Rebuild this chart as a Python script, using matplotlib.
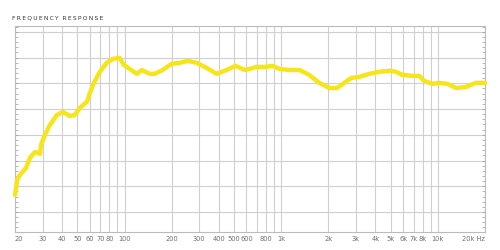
import matplotlib
matplotlib.use("Agg")
import matplotlib.pyplot as plt
from matplotlib.ticker import FixedLocator, NullFormatter, MultipleLocator

# frequency response (Hz, relative level)
freqs = [20, 20.3, 20.6, 21.5, 23.5, 24.9, 26.8, 28.9, 29.3, 31, 33.4, 37, 40.4,
         44.8, 48.2, 51.9, 57.5, 62.8, 69.6, 77, 84, 93, 99, 108, 120, 129, 145,
         156, 175, 200, 225, 253, 289, 334, 387, 448, 512, 584, 628, 695, 794,
         880, 975, 1130, 1310, 1510, 1750, 2030, 2280, 2530, 2800, 3150, 3650,
         4230, 4900, 5420, 5920, 6850, 7600, 8170, 9190, 10200, 11500, 13100,
         15100, 17500, 20000]
level = [6.6, 9.0, 12.4, 14.4, 17.1, 21.0, 23.3, 22.6, 26.1, 29.9, 33.8, 37.7,
         38.9, 37.3, 37.7, 40.5, 42.8, 49.4, 54.5, 58.0, 59.5, 59.9, 57.2, 55.6,
         53.7, 55.2, 53.7, 53.7, 55.2, 57.6, 58.0, 58.7, 58.0, 56.0, 53.7, 55.2,
         56.8, 55.2, 55.6, 56.4, 56.4, 56.8, 55.6, 55.2, 55.2, 53.3, 50.2, 48.2,
         48.2, 50.2, 52.1, 52.5, 53.7, 54.5, 54.9, 54.5, 53.3, 52.9, 52.9, 51.0,
         49.8, 50.2, 49.8, 48.2, 48.6, 50.2, 50.2]

grid_freqs = [20, 30, 40, 50, 60, 70, 80, 90, 100, 200, 300, 400, 500, 600, 700,
              800, 900, 1000, 2000, 3000, 4000, 5000, 6000, 7000, 8000, 9000,
              10000, 20000]
label_freqs = [20, 30, 40, 50, 60, 70, 80, 100, 200, 300, 400, 500, 600, 800,
               1000, 2000, 3000, 4000, 5000, 6000, 7000, 8000, 10000, 20000]
label_text = ["20", "30", "40", "50", "60", "70", "80", "100", "200", "300",
              "400", "500", "600", "800", "1k", "2k", "3k", "4k", "5k", "6k",
              "7k", "8k", "10k", "20k Hz"]

fig = plt.figure(figsize=(5, 2.5), dpi=100)
ax = fig.add_axes([0.03, 0.072, 0.94, 0.824])

ax.set_xscale("log")
ax.set_xlim(20, 20000)
ax.set_ylim(-7.8, 72.3)

ax.xaxis.set_major_locator(FixedLocator(grid_freqs))
ax.xaxis.set_minor_locator(FixedLocator([]))
ax.xaxis.set_major_formatter(NullFormatter())
ax.xaxis.set_minor_formatter(NullFormatter())
ax.tick_params(axis="x", length=0)
for f, t in zip(label_freqs, label_text):
    if t == "20":
        ha = "left"
    elif t.endswith("Hz"):
        ha = "right"
    else:
        ha = "center"
    ax.text(f, -9.3, t, ha=ha, va="top", fontsize=4.8, color="#6f6f6f",
            family=["Liberation Sans Narrow", "DejaVu Sans"])

ax.yaxis.set_major_locator(MultipleLocator(10))
ax.yaxis.set_minor_locator(MultipleLocator(2))
ax.yaxis.set_major_formatter(NullFormatter())
ax.tick_params(axis="y", which="both", direction="in", left=True, right=True,
               length=2.5, width=0.5, color="#999999")

ax.grid(True, which="major", color="#cfcfcf", linewidth=0.8)
for s in ax.spines.values():
    s.set_color("#bbbbbb")
    s.set_linewidth(0.8)

ax.plot(freqs, level, color="#f7e51c", linewidth=3.2, solid_joinstyle="round",
        solid_capstyle="round", clip_on=False, zorder=3)

title = "\u2009".join("FREQUENCY") + "  " + "\u2009".join("RESPONSE")
fig.text(0.025, 0.918, title, fontsize=4.3, color="#333333", ha="left",
         va="bottom", family=["DejaVu Sans"])

fig.savefig("out.png", dpi=100, facecolor="white")
